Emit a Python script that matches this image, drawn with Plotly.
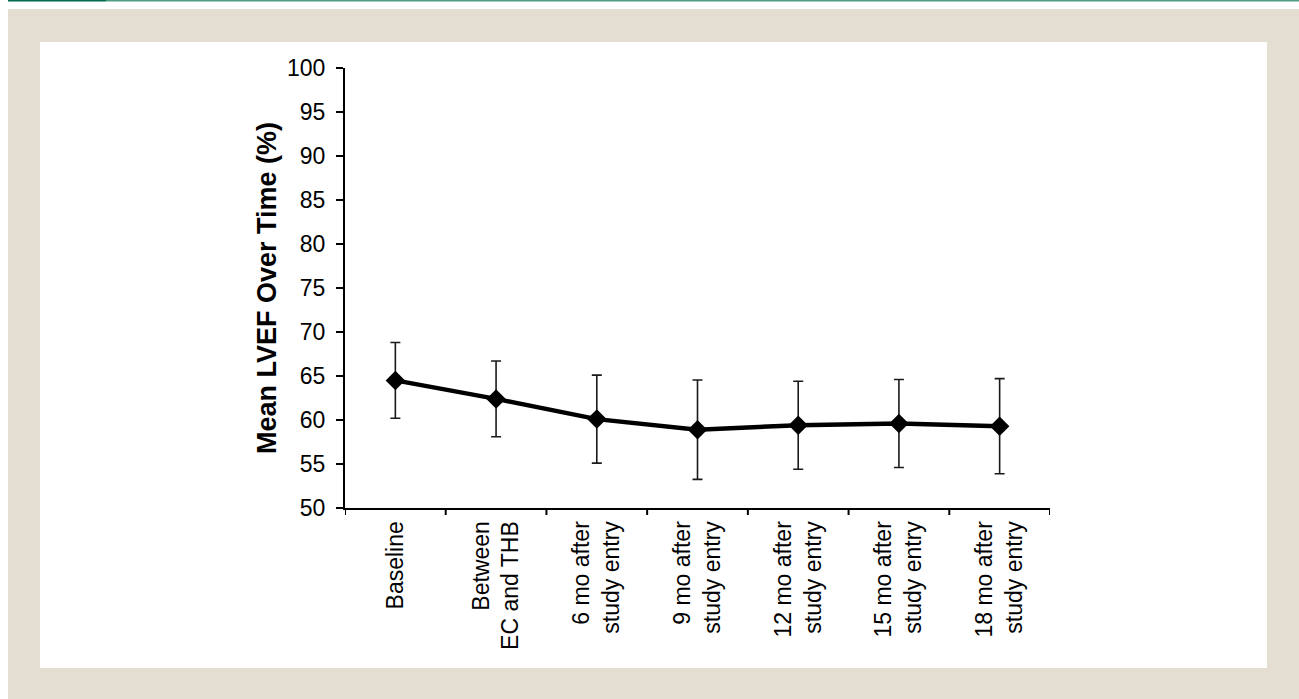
import plotly.graph_objects as go

# Time points and mean LVEF (%) with standard deviations
categories = [
    "Baseline",
    "Between<br>EC and THB",
    "6 mo after<br>study entry",
    "9 mo after<br>study entry",
    "12 mo after<br>study entry",
    "15 mo after<br>study entry",
    "18 mo after<br>study entry",
]
mean_lvef = [64.5, 62.4, 60.1, 58.9, 59.4, 59.6, 59.3]
sd_lvef = [4.3, 4.3, 5.0, 5.65, 5.0, 5.0, 5.4]
y_ticks = [50, 55, 60, 65, 70, 75, 80, 85, 90, 95, 100]

W, H = 1299, 699
ML, MR, MT, MB = 345, 249, 68, 191
PW, PH = W - ML - MR, H - MT - MB


def fx(px):
    return (px - ML) / PW


def fy(py):
    return 1 - (py - MT) / PH


BEIGE = "#e4ddd1"

fig = go.Figure()
fig.add_trace(go.Scatter(
    x=list(range(len(categories))),
    y=mean_lvef,
    mode="lines+markers",
    line=dict(color="black", width=4.5),
    marker=dict(symbol="diamond", size=15, color="black"),
    error_y=dict(type="data", array=sd_lvef, visible=True,
                 color="#1a1a1a", thickness=1.6, width=5),
    showlegend=False,
    cliponaxis=False,
))

shapes = [
    # white strip along the top edge
    dict(type="rect", xref="paper", yref="paper", layer="below",
         x0=fx(0), x1=fx(W), y0=fy(0), y1=fy(9),
         fillcolor="white", line=dict(width=0)),
    # white strip on the left edge
    dict(type="rect", xref="paper", yref="paper", layer="below",
         x0=fx(0), x1=fx(8), y0=fy(0), y1=fy(H),
         fillcolor="white", line=dict(width=0)),
    # inner white panel
    dict(type="rect", xref="paper", yref="paper", layer="below",
         x0=fx(40), x1=fx(1267), y0=fy(42), y1=fy(668),
         fillcolor="white", line=dict(width=0)),
    # green rule at the top
    dict(type="rect", xref="paper", yref="paper", layer="below",
         x0=fx(8), x1=fx(106), y0=fy(0), y1=fy(1.6),
         fillcolor="#006b4f", line=dict(width=0)),
    dict(type="rect", xref="paper", yref="paper", layer="below",
         x0=fx(106), x1=fx(W), y0=fy(0), y1=fy(1.6),
         fillcolor="#4e9d82", line=dict(width=0)),
]

fig.update_layout(
    width=W, height=H,
    margin=dict(l=ML, r=MR, t=MT, b=MB, autoexpand=False),
    paper_bgcolor=BEIGE,
    plot_bgcolor="rgba(0,0,0,0)",
    font=dict(family="Liberation Sans, Arial, sans-serif", color="black"),
    shapes=shapes,
    xaxis=dict(
        type="linear",
        range=[-0.5, 6.5],
        tickmode="array",
        tickvals=list(range(len(categories))),
        ticktext=categories,
        tickangle=-90,
        tickfont=dict(size=23),
        ticks="",
        ticklabelstandoff=2,
        showgrid=False,
        zeroline=False,
        showline=True, linecolor="black", linewidth=2,
    ),
    yaxis=dict(
        range=[50, 100],
        tickmode="array",
        tickvals=y_ticks,
        tickfont=dict(size=23),
        ticks="outside", ticklen=7, tickwidth=2, tickcolor="black",
        ticklabelstandoff=6,
        showgrid=False,
        zeroline=False,
        showline=True, linecolor="black", linewidth=2,
        title=dict(text="<b>Mean LVEF Over Time (%)</b>",
                   font=dict(size=27), standoff=3),
    ),
)

# category boundary ticks along the x axis
for b in [i - 0.5 for i in range(len(categories) + 1)]:
    fig.add_shape(type="line", xref="x", yref="paper",
                  x0=b, x1=b, y0=0, y1=fy(515),
                  line=dict(color="black", width=2))

fig.write_html("out.html")
